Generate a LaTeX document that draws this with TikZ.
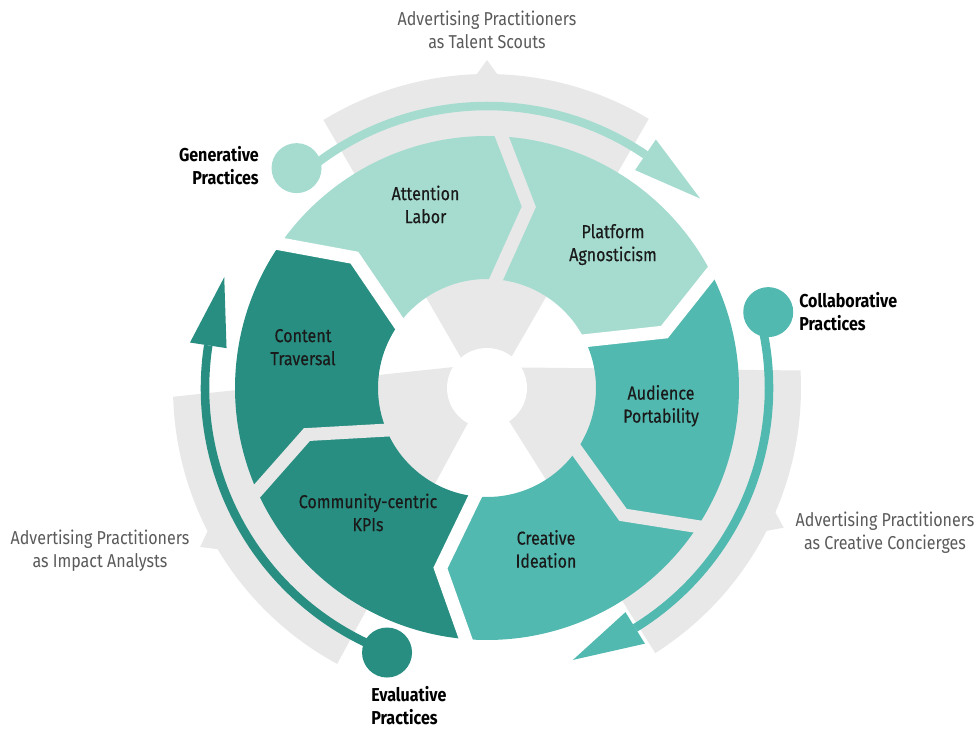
\documentclass[tikz,border=0pt]{standalone}
\usepackage{fontspec}
\setmainfont{Fira Sans}[FakeStretch=0.86]
\newfontface\segface{Fira Sans}[FakeStretch=0.86,FakeBold=0.4]
\usetikzlibrary{calc}
\definecolor{mintfill}{HTML}{A6DCCF}
\definecolor{midfill}{HTML}{52B9B0}
\definecolor{darkfill}{HTML}{288E81}
\definecolor{bandgray}{HTML}{E8E8E8}
\definecolor{sidetext}{HTML}{5A5A5A}
\definecolor{inktext}{HTML}{1A1A1A}
% ring segment: colour, trailing boundary angle, leading boundary angle
\newcommand\ringseg[3]{\fill[#1] (#2:252) arc[start angle=#2,end angle=#3,radius=252] -- ({#3-11}:186) -- (#3:109) arc[start angle=#3,end angle=#2,radius=109] -- ({#2-11}:186) -- cycle;}
% gap between two segments: colour, boundary angle
\newcommand\ringgap[2]{\draw[#1, gapline] (#2:266) -- ({#2-11}:186) -- (#2:96);}
\tikzset{
  gapline/.style={line width=9.75pt, line join=miter},
  arcline/.style={line width=6.4pt},
  seglabel/.style={font=\fontsize{14}{17.25}\selectfont\segface, text=inktext, align=center, inner sep=0pt},
  sidelabel/.style={font=\fontsize{14}{17.25}\selectfont, text=sidetext, align=center, inner sep=0pt},
  practlabel/.style={font=\fontsize{14}{17.25}\selectfont\bfseries, text=black, inner sep=0pt},
  startdot/.style={circle, inner sep=0pt, minimum size=37.5pt}
}
\begin{document}
\begin{tikzpicture}[x=0.75pt,y=0.75pt]
\useasboundingbox (0,0) rectangle (974,729);
\begin{scope}[shift={(487,341)}]
  % grey wedges with pointers
  \fill[bandgray] (-1,-13) -- (121.4:314) arc[start angle=121.4,end angle=59,radius=314] -- cycle;
  \fill[bandgray] (87.7:311) -- (90:328) -- (92.3:311) -- cycle;
  \fill[bandgray] (14,26) -- (181.6:314) arc[start angle=181.6,end angle=241.5,radius=314] -- cycle;
  \fill[bandgray] (206.7:311) -- (209:328) -- (211.3:311) -- cycle;
  \fill[bandgray] (-12,21) -- (3.2:314) arc[start angle=3.2,end angle=-57.6,radius=314] -- cycle;
  \fill[bandgray] (-22.9:311) -- (-25.2:328) -- (-27.5:311) -- cycle;
  % coloured segments
  \ringseg{mintfill}{146.5}{88}
  \ringseg{mintfill}{88}{28.5}
  \ringseg{midfill}{28.5}{-32}
  \ringseg{midfill}{-32}{-93.5}
  \ringseg{darkfill}{-93.5}{-154.5}
  \ringseg{darkfill}{-154.5}{-213.5}
  % gaps
  \ringgap{bandgray}{88}
  \ringgap{white}{28.5}
  \ringgap{bandgray}{-32}
  \ringgap{white}{-93.5}
  \ringgap{bandgray}{-154.5}
  \ringgap{white}{146.5}
  % centre
  \fill[white] (0,0) circle[radius=40];
  % arrows
  \node[startdot, fill=mintfill] (gdot) at (130.9:290.9) {};
  \coordinate (gend) at (55.8:282);
  \draw[arcline, mintfill] (131:282) arc[start angle=131,end angle=55.8,radius=282];
  \fill[mintfill] (55.8:263.5) -- ($(gend)+(-38.7:70)$) -- (55.8:300.5) -- cycle;
  \node[startdot, fill=midfill] (cdot) at (15.1:291.3) {};
  \coordinate (cend) at (-58.3:282);
  \draw[arcline, midfill] (15.1:282) arc[start angle=15.1,end angle=-58.3,radius=282];
  \fill[midfill] (-58.3:263.5) -- ($(cend)+(-152.8:70)$) -- (-58.3:300.5) -- cycle;
  \node[startdot, fill=darkfill] (edot) at (249.3:282.8) {};
  \coordinate (eend) at (171.3:282);
  \draw[arcline, darkfill] (249.3:282) arc[start angle=249.3,end angle=171.3,radius=282];
  \fill[darkfill] (171.3:263.5) -- ($(eend)+(76.8:70)$) -- (171.3:300.5) -- cycle;
\end{scope}
% segment labels
\node[seglabel] (attn) at (425.5,522) {\strut Attention\\\strut Labor};
\node[seglabel] (plat) at (613,484) {\strut Platform\\\strut Agnosticism};
\node[seglabel] (aud) at (661,322.5) {\strut Audience\\\strut Portability};
\node[seglabel] (crea) at (546,177.5) {\strut Creative\\\strut Ideation};
\node[seglabel] (comm) at (368,214) {\strut Community-centric\\\strut KPIs};
\node[seglabel] (cont) at (303,380) {\strut Content\\\strut Traversal};
% side labels
\node[sidelabel] (scouts) at (487,697) {\strut Advertising Practitioners\\\strut as Talent Scouts};
\node[sidelabel] (conc) at (885,195.5) {\strut Advertising Practitioners\\\strut as Creative Concierges};
\node[sidelabel] (anal) at (100,177.5) {\strut Advertising Practitioners\\\strut as Impact Analysts};
% practice labels
\node[practlabel, anchor=east, align=right] (gen) at (259,560.5) {\strut Generative\\\strut Practices};
\node[practlabel, anchor=west, align=left] (col) at (799,414.5) {\strut Collaborative\\\strut Practices};
\node[practlabel, anchor=west, align=left] (eva) at (371,20.5) {\strut Evaluative\\\strut Practices};
\end{tikzpicture}
\end{document}
